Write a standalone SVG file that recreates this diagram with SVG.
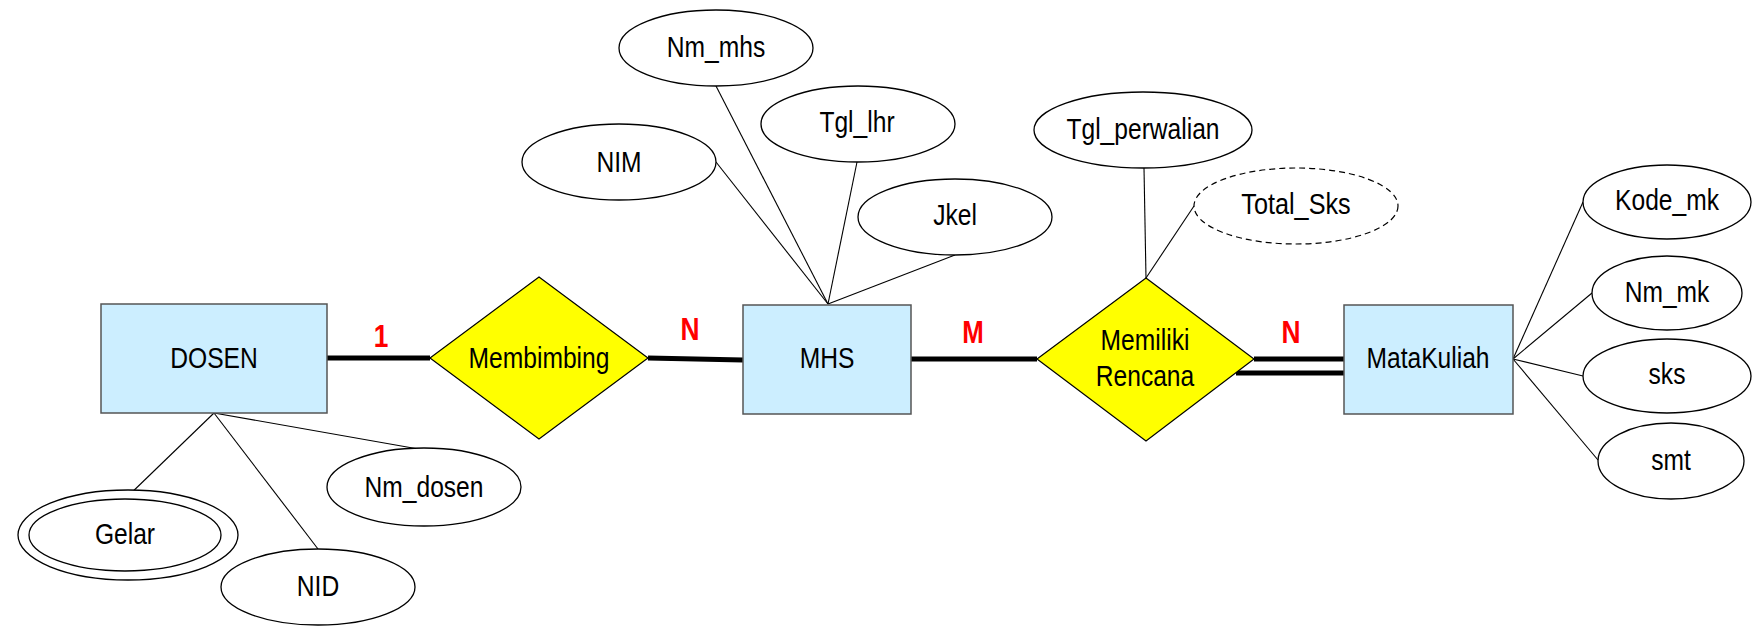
<svg xmlns="http://www.w3.org/2000/svg" width="1752" height="627" viewBox="0 0 1752 627">
  <style>
    .entity { fill: #cceeff; stroke: #555555; stroke-width: 1.5; }
    .rel { fill: #ffff00; stroke: #000000; stroke-width: 1.2; }
    .attr { fill: #ffffff; stroke: #000000; stroke-width: 1.3; }
    .derived { fill: #ffffff; stroke: #000000; stroke-width: 1.2; stroke-dasharray: 6 4; }
    .thin { stroke: #000000; stroke-width: 1.1; fill: none; }
    .thick { stroke: #000000; stroke-width: 5; fill: none; }
    text { font-family: "Liberation Sans Narrow", "Arial Narrow", "Liberation Sans", Arial, sans-serif; font-size: 30px; fill: #000000; text-anchor: middle; }
    .card { font-weight: bold; font-size: 32px; fill: #ff0000; }
  </style>

  <rect width="1752" height="627" fill="#ffffff"/>

  <!-- connectors -->
  <g id="connectors">
    <!-- relationship links -->
    <line class="thick" x1="327" y1="358" x2="430" y2="358"/>
    <line class="thick" x1="648" y1="358" x2="743" y2="360"/>
    <line class="thick" x1="911" y1="359" x2="1037" y2="359"/>
    <line class="thick" x1="1254" y1="359" x2="1344" y2="359"/>
    <line class="thick" x1="1236" y1="373" x2="1344" y2="373"/>
    <!-- DOSEN attributes -->
    <line class="thin" x1="214" y1="413" x2="125" y2="499"/>
    <line class="thin" x1="214" y1="413" x2="318" y2="549"/>
    <line class="thin" x1="214" y1="413" x2="424" y2="450"/>
    <!-- MHS attributes -->
    <line class="thin" x1="828" y1="304" x2="716" y2="162"/>
    <line class="thin" x1="828" y1="304" x2="716" y2="86"/>
    <line class="thin" x1="828" y1="304" x2="857" y2="162"/>
    <line class="thin" x1="828" y1="304" x2="955" y2="255"/>
    <!-- Memiliki Rencana attributes -->
    <line class="thin" x1="1146" y1="278" x2="1144" y2="168"/>
    <line class="thin" x1="1146" y1="278" x2="1194" y2="206"/>
    <!-- MataKuliah attributes -->
    <line class="thin" x1="1513" y1="359" x2="1583" y2="202"/>
    <line class="thin" x1="1513" y1="359" x2="1592" y2="293"/>
    <line class="thin" x1="1513" y1="359" x2="1583" y2="376"/>
    <line class="thin" x1="1513" y1="359" x2="1598" y2="460"/>
  </g>

  <!-- cardinalities (narrow widths kept via textLength) -->
  <g id="cardinalities">
    <text class="card" x="381" y="347" textLength="14.6" lengthAdjust="spacingAndGlyphs">1</text>
    <text class="card" x="690" y="340" textLength="19" lengthAdjust="spacingAndGlyphs">N</text>
    <text class="card" x="973" y="343" textLength="21.5" lengthAdjust="spacingAndGlyphs">M</text>
    <text class="card" x="1291" y="343" textLength="19" lengthAdjust="spacingAndGlyphs">N</text>
  </g>

  <!-- entities -->
  <g id="dosen">
    <rect class="entity" x="101" y="304" width="226" height="109"/>
    <text x="214" y="368" textLength="87.5" lengthAdjust="spacingAndGlyphs">DOSEN</text>
  </g>
  <g id="mhs">
    <rect class="entity" x="743" y="305" width="168" height="109"/>
    <text x="827" y="368" textLength="54.7" lengthAdjust="spacingAndGlyphs">MHS</text>
  </g>
  <g id="matakuliah">
    <rect class="entity" x="1344" y="305" width="169" height="109"/>
    <text x="1428" y="368" textLength="123" lengthAdjust="spacingAndGlyphs">MataKuliah</text>
  </g>

  <!-- relationships -->
  <g id="membimbing">
    <polygon class="rel" points="539,277 648,358 539,439 430,358"/>
    <text x="539" y="368" textLength="140.8" lengthAdjust="spacingAndGlyphs">Membimbing</text>
  </g>
  <g id="memiliki-rencana">
    <polygon class="rel" points="1146,278 1254,359 1146,441 1037,359"/>
    <text x="1145" y="350" textLength="88.8" lengthAdjust="spacingAndGlyphs">Memiliki</text>
    <text x="1145" y="386" textLength="98.4" lengthAdjust="spacingAndGlyphs">Rencana</text>
  </g>

  <!-- DOSEN attributes -->
  <g id="attr-gelar">
    <ellipse class="attr" cx="128" cy="535" rx="110" ry="45"/>
    <ellipse class="attr" cx="125" cy="535" rx="96" ry="36"/>
    <text x="125" y="544" textLength="60.1" lengthAdjust="spacingAndGlyphs">Gelar</text>
  </g>
  <g id="attr-nid">
    <ellipse class="attr" cx="318" cy="587" rx="97" ry="38"/>
    <text x="318" y="596" textLength="42.4" lengthAdjust="spacingAndGlyphs">NID</text>
  </g>
  <g id="attr-nm-dosen">
    <ellipse class="attr" cx="424" cy="487" rx="97" ry="39"/>
    <text x="424" y="497" textLength="118.9" lengthAdjust="spacingAndGlyphs">Nm_dosen</text>
  </g>

  <!-- MHS attributes -->
  <g id="attr-nm-mhs">
    <ellipse class="attr" cx="716" cy="48" rx="97" ry="38"/>
    <text x="716" y="57" textLength="98.4" lengthAdjust="spacingAndGlyphs">Nm_mhs</text>
  </g>
  <g id="attr-nim">
    <ellipse class="attr" cx="619" cy="162" rx="97" ry="38"/>
    <text x="619" y="172" textLength="45.1" lengthAdjust="spacingAndGlyphs">NIM</text>
  </g>
  <g id="attr-tgl-lhr">
    <ellipse class="attr" cx="858" cy="124" rx="97" ry="38"/>
    <text x="857" y="132" textLength="75.2" lengthAdjust="spacingAndGlyphs">Tgl_lhr</text>
  </g>
  <g id="attr-jkel">
    <ellipse class="attr" cx="955" cy="217" rx="97" ry="38"/>
    <text x="955" y="225" textLength="43.7" lengthAdjust="spacingAndGlyphs">Jkel</text>
  </g>

  <!-- Memiliki Rencana attributes -->
  <g id="attr-tgl-perwalian">
    <ellipse class="attr" cx="1143" cy="130" rx="109" ry="38"/>
    <text x="1143" y="139" textLength="153.1" lengthAdjust="spacingAndGlyphs">Tgl_perwalian</text>
  </g>
  <g id="attr-total-sks">
    <ellipse class="derived" cx="1296" cy="206" rx="102" ry="38"/>
    <text x="1296" y="214" textLength="109.4" lengthAdjust="spacingAndGlyphs">Total_Sks</text>
  </g>

  <!-- MataKuliah attributes -->
  <g id="attr-kode-mk">
    <ellipse class="attr" cx="1667" cy="202" rx="84" ry="37"/>
    <text x="1667" y="210" textLength="103.9" lengthAdjust="spacingAndGlyphs">Kode_mk</text>
  </g>
  <g id="attr-nm-mk">
    <ellipse class="attr" cx="1667" cy="293" rx="75" ry="37"/>
    <text x="1667" y="302" textLength="84.7" lengthAdjust="spacingAndGlyphs">Nm_mk</text>
  </g>
  <g id="attr-sks">
    <ellipse class="attr" cx="1667" cy="376" rx="84" ry="37"/>
    <text x="1667" y="384" textLength="36.9" lengthAdjust="spacingAndGlyphs">sks</text>
  </g>
  <g id="attr-smt">
    <ellipse class="attr" cx="1671" cy="461" rx="73" ry="38"/>
    <text x="1671" y="470" textLength="39.6" lengthAdjust="spacingAndGlyphs">smt</text>
  </g>
</svg>
